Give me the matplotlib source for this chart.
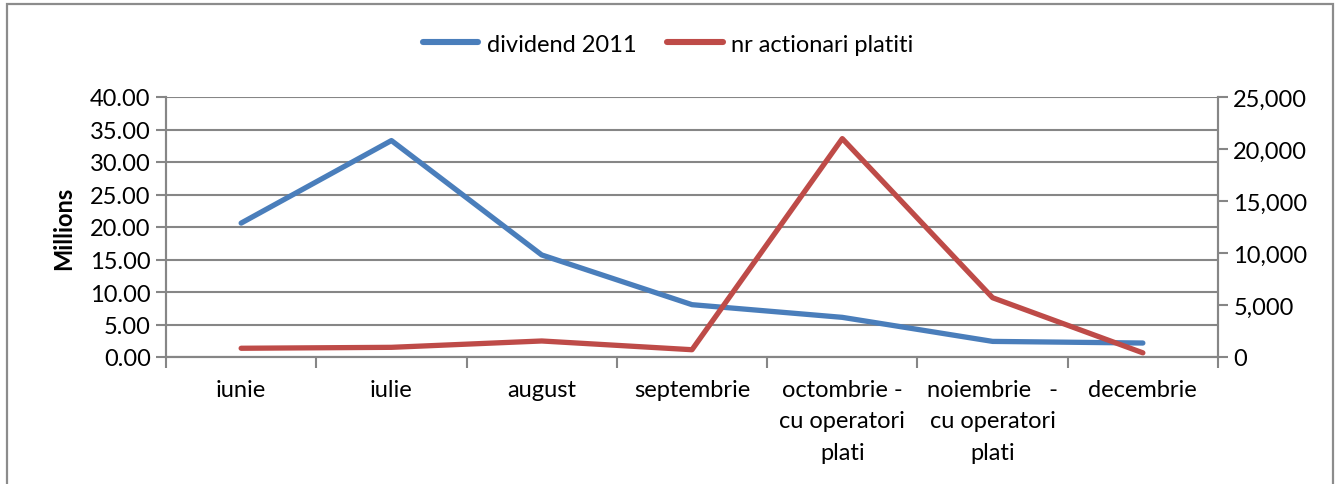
import matplotlib
matplotlib.use("Agg")
import matplotlib.pyplot as plt
from matplotlib.ticker import FuncFormatter, FixedLocator
from matplotlib.patches import Rectangle
from matplotlib.lines import Line2D

plt.rcParams['font.family'] = ['Lato', 'DejaVu Sans']

categories = ["iunie", "iulie", "august", "septembrie",
              "octombrie -\ncu operatori\nplati",
              "noiembrie   -\ncu operatori\nplati",
              "decembrie"]
dividend_millions = [20.6, 33.3, 15.7, 8.05, 6.1, 2.4, 2.15]
actionari = [840, 930, 1540, 700, 21000, 5700, 400]
series_names = ["dividend 2011", "nr actionari platiti"]

W, H, DPI = 1336, 485, 100
fig = plt.figure(figsize=(W / DPI, H / DPI), dpi=DPI)
fig.patch.set_facecolor("white")

# outer frame
fig.patches.append(Rectangle((7 / W, -0.02), (1333 - 7) / W, 1 - 5 / H + 0.02,
                             transform=fig.transFigure, fill=False,
                             edgecolor="#8c8c8c", linewidth=1.6))

left, right = 166 / W, 1218 / W
bottom, top = 1 - 358 / H, 1 - 98 / H
ax = fig.add_axes([left, bottom, right - left, top - bottom])
ax2 = ax.twinx()

blue = "#4A7EBB"
red = "#BE4B48"
grid_c = "#868686"
fs = 17

x = list(range(len(categories)))
ax.plot(x, dividend_millions, color=blue, lw=3.8, solid_capstyle="round", zorder=3)
ax2.plot(x, actionari, color=red, lw=3.8, solid_capstyle="round", zorder=3)

ax.set_xlim(-0.5, len(categories) - 0.5)
ax.set_ylim(0, 40)
ax2.set_ylim(0, 25000)
ax.set_yticks([0, 5, 10, 15, 20, 25, 30, 35, 40])
ax2.set_yticks([0, 5000, 10000, 15000, 20000, 25000])
ax.yaxis.set_major_formatter(FuncFormatter(lambda v, p: f"{v:.2f}"))
ax2.yaxis.set_major_formatter(FuncFormatter(lambda v, p: f"{int(v):,}"))

ax.set_xticks(x)
ax.set_xticklabels(categories, fontsize=fs, linespacing=1.6)
ax.xaxis.set_minor_locator(FixedLocator([i - 0.5 for i in range(len(categories) + 1)]))
ax.tick_params(axis="x", which="major", length=0, pad=16)
ax.tick_params(axis="x", which="minor", length=8, width=1.5, color=grid_c)
ax.tick_params(axis="y", length=7, width=1.5, color=grid_c, labelsize=fs, pad=4)
ax2.tick_params(axis="y", length=7, width=1.5, color=grid_c, labelsize=fs, pad=4)

ax.grid(axis="y", color=grid_c, linewidth=1.5)
ax.set_axisbelow(True)
for a in (ax, ax2):
    a.spines["top"].set_visible(False)
    for s in ("left", "right", "bottom"):
        a.spines[s].set_color(grid_c)
        a.spines[s].set_linewidth(1.5)

ax.set_ylabel("Millions", fontsize=fs, fontweight="bold", labelpad=11)

handles = [Line2D([], [], color=blue, lw=4.4, solid_capstyle="round"),
           Line2D([], [], color=red, lw=4.4, solid_capstyle="round")]
fig.legend(handles, series_names, loc="center", bbox_to_anchor=(0.5, 1 - 45 / H),
           ncol=2, frameon=False, fontsize=fs, handlelength=2.35,
           handletextpad=0.35, columnspacing=1.3)

fig.savefig("out.png", dpi=DPI, facecolor="white")
